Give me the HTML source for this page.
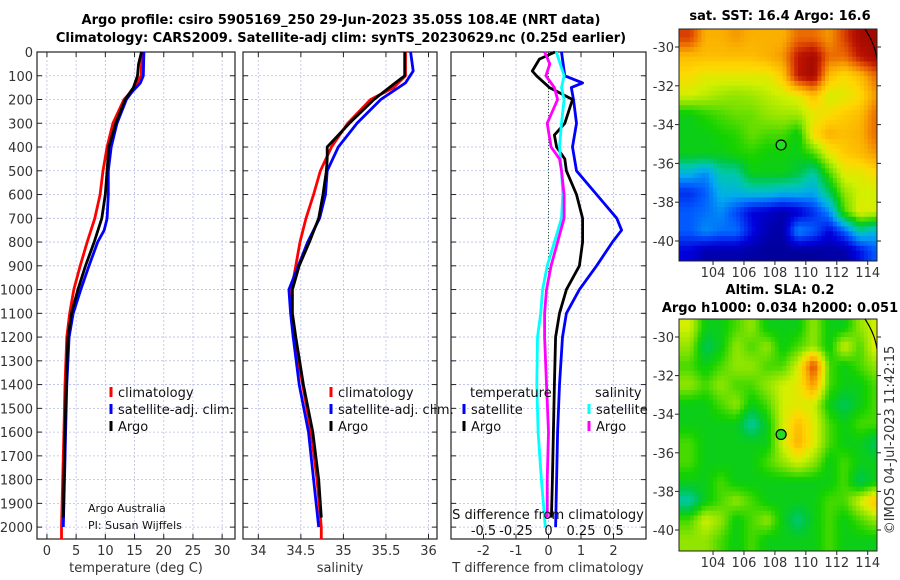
<!DOCTYPE html>
<html><head><meta charset="utf-8"><style>
body{margin:0;background:#fff;}
svg{display:block;font-family:"DejaVu Sans","Liberation Sans",sans-serif;}
</style></head><body>
<svg id="fig" width="900" height="580" xmlns="http://www.w3.org/2000/svg">
<text x="341" y="24" text-anchor="middle" font-size="13" font-weight="bold">Argo profile: csiro 5905169_250 29-Jun-2023 35.05S 108.4E (NRT data)</text>
<text x="341" y="42" text-anchor="middle" font-size="13" font-weight="bold">Climatology: CARS2009. Satellite-adj clim: synTS_20230629.nc (0.25d earlier)</text>
<text x="780" y="20" text-anchor="middle" font-size="13" font-weight="bold">sat. SST: 16.4 Argo: 16.6</text>
<text x="780" y="294" text-anchor="middle" font-size="13" font-weight="bold">Altim. SLA: 0.2</text>
<text x="780" y="312" text-anchor="middle" font-size="13" font-weight="bold">Argo h1000: 0.034 h2000: 0.051</text>
<text transform="translate(894,440) rotate(-90)" text-anchor="middle" font-size="13" fill="#333">©IMOS 04-Jul-2023 11:42:15</text>
<g id="layer"></g>
</svg>
<script>
// ---- data ----
const depthTicks=[0,100,200,300,400,500,600,700,800,900,1000,1100,1200,1300,1400,1500,1600,1700,1800,1900,2000];
const tempTicks=[0,5,10,15,20,25,30];
const salTicks=[34,34.5,35,35.5,36];
const tdiffTicks=[-2,-1,0,1,2];
const sdiffTicks=[-0.5,-0.25,0,0.25,0.5];
const sdiffTickLabels=["-0.5","-0.25","0","0.25","0.5"];

const climTDepth=[0,100,150,200,300,400,500,600,700,800,900,1000,1100,1200,1400,1600,1800,2000,2050];
const climT=[16.3,16.1,15.0,13.2,11.3,10.3,9.6,9.1,8.2,6.9,5.7,4.6,3.9,3.4,3.1,2.9,2.7,2.5,2.5];
const satTDepth=[0,100,130,170,200,300,400,500,600,700,750,800,900,1000,1100,1200,1400,1600,1800,2000];
const satT=[16.6,16.5,16.0,14.5,13.6,12.0,11.0,10.5,10.5,10.3,9.8,8.7,7.2,5.8,4.5,3.8,3.4,3.2,3.0,2.8];
const argoTDepth=[0,50,100,150,200,300,400,500,600,700,800,900,1000,1100,1200,1400,1600,1800,1960];
const argoT=[16.2,15.7,15.5,14.8,13.4,11.8,10.6,10.3,10.0,9.4,8.1,6.6,5.3,4.2,3.6,3.3,3.1,2.9,2.8];

const climSDepth=[0,100,150,200,300,400,500,600,700,800,900,1000,1100,1200,1400,1600,1800,2000,2050];
const climS=[35.73,35.73,35.59,35.32,35.05,34.86,34.73,34.65,34.56,34.49,34.44,34.39,34.39,34.42,34.52,34.62,34.69,34.74,34.74];
const satSDepth=[0,80,130,200,300,400,500,600,700,800,900,1000,1100,1200,1400,1600,1800,2000];
const satS=[35.79,35.82,35.73,35.44,35.16,34.94,34.81,34.79,34.72,34.58,34.47,34.36,34.38,34.41,34.48,34.59,34.65,34.71];
const argoSDepth=[0,100,130,200,300,400,450,500,600,700,800,900,1000,1100,1200,1400,1600,1800,1960];
const argoS=[35.72,35.72,35.61,35.36,35.07,34.81,34.81,34.80,34.76,34.71,34.60,34.48,34.40,34.40,34.44,34.53,34.64,34.71,34.74];

const satTdDepth=[0,100,130,150,200,300,400,500,600,700,750,800,900,1000,1100,1200,1400,1600,1800,2000];
const satTd=[0.4,0.5,1.05,0.7,0.77,0.86,0.74,0.86,1.48,2.1,2.25,1.97,1.48,0.95,0.55,0.43,0.34,0.28,0.25,0.22];
const argoTdDepth=[0,30,80,100,150,200,300,350,400,450,500,600,700,800,900,1000,1100,1200,1400,1600,1800,1960];
const argoTd=[0.2,-0.28,-0.5,-0.37,0.03,0.74,0.5,0.18,0.25,0.5,0.55,0.86,1.05,1.05,0.95,0.55,0.34,0.22,0.18,0.15,0.12,0.09];
const satSdDepth=[0,100,150,200,300,400,500,600,700,800,900,1000,1100,1200,1400,1600,1800,2000];
const satSd=[0.06,0.12,0.1,0.12,0.1,0.085,0.1,0.11,0.1,0.045,-0.01,-0.045,-0.06,-0.085,-0.09,-0.08,-0.055,-0.025];
const argoSdDepth=[0,50,100,150,200,300,400,450,500,600,700,800,900,1000,1100,1200,1400,1600,1800,1960];
const argoSd=[-0.03,0.01,-0.02,0.045,0.07,-0.01,0.02,0.085,0.1,0.12,0.12,0.07,0.02,-0.015,-0.03,-0.03,-0.015,0,-0.01,-0.01];

const lonTicks=[104,106,108,110,112,114];
const latTicks=[-30,-32,-34,-36,-38,-40];
const gridLon0=102, gridLat0=-29; // 1-degree cells
const sstGrid=[
[0.85,0.72,0.72,0.75,0.72,0.72,0.72,0.8,0.8,0.75,0.85,0.95,0.95],
[0.7,0.7,0.7,0.7,0.7,0.72,0.75,0.9,0.95,0.8,0.8,0.9,0.95],
[0.65,0.62,0.62,0.62,0.62,0.62,0.68,0.9,0.95,0.7,0.65,0.7,0.8],
[0.6,0.58,0.56,0.55,0.56,0.58,0.6,0.62,0.7,0.6,0.62,0.65,0.75],
[0.45,0.48,0.5,0.52,0.52,0.55,0.56,0.56,0.62,0.65,0.68,0.7,0.8],
[0.45,0.45,0.47,0.48,0.52,0.5,0.5,0.45,0.65,0.72,0.7,0.72,0.8],
[0.45,0.45,0.45,0.47,0.48,0.46,0.46,0.45,0.5,0.62,0.68,0.7,0.75],
[0.3,0.25,0.35,0.35,0.45,0.45,0.45,0.42,0.35,0.5,0.62,0.62,0.65],
[0.15,0.2,0.3,0.3,0.32,0.32,0.3,0.3,0.28,0.4,0.55,0.6,0.6],
[0.2,0.22,0.25,0.18,0.1,0.08,0.05,0.08,0.15,0.25,0.5,0.62,0.6],
[0.2,0.25,0.22,0.22,0.12,0.05,0.04,0.25,0.2,0.1,0.2,0.35,0.3],
[0.1,0.05,0.05,0.05,0.04,0.03,0.03,0.03,0.03,0.04,0.04,0.12,0.2]];
const slaGrid=[
[0.6,0.45,0.45,0.5,0.55,0.45,0.45,0.45,0.55,0.45,0.45,0.55,0.6],
[0.55,0.4,0.45,0.55,0.5,0.55,0.45,0.5,0.55,0.45,0.6,0.5,0.62],
[0.5,0.45,0.5,0.55,0.55,0.5,0.5,0.6,0.85,0.5,0.45,0.5,0.55],
[0.55,0.5,0.55,0.5,0.5,0.55,0.6,0.62,0.75,0.5,0.45,0.45,0.5],
[0.45,0.45,0.5,0.55,0.45,0.5,0.6,0.62,0.6,0.45,0.4,0.45,0.5],
[0.45,0.45,0.45,0.45,0.35,0.45,0.6,0.7,0.62,0.5,0.45,0.5,0.5],
[0.5,0.45,0.45,0.45,0.45,0.45,0.6,0.72,0.62,0.5,0.45,0.45,0.4],
[0.5,0.45,0.45,0.45,0.45,0.5,0.55,0.6,0.55,0.45,0.5,0.45,0.45],
[0.45,0.45,0.5,0.45,0.45,0.45,0.45,0.45,0.45,0.45,0.5,0.4,0.45],
[0.35,0.45,0.5,0.55,0.5,0.45,0.45,0.45,0.45,0.5,0.5,0.6,0.7],
[0.5,0.6,0.55,0.45,0.5,0.55,0.45,0.38,0.45,0.5,0.45,0.5,0.55],
[0.55,0.55,0.5,0.45,0.5,0.45,0.45,0.45,0.45,0.5,0.45,0.45,0.45]];
const argoLon=108.4, argoLat=-35.05;

// ---- drawing ----
const NS="http://www.w3.org/2000/svg";
const L=document.getElementById('layer');
function mk(tag,attrs,parent){const e=document.createElementNS(NS,tag);for(const k in attrs)e.setAttribute(k,attrs[k]);(parent||L).appendChild(e);return e;}
const yTop=52,yBot=539,dMax=2050;
const yD=d=>yTop+(d/dMax)*(yBot-yTop);
const panels=[
 {x0:37,x1:235,v0:-1.7,v1:32.2,name:'temperature-panel'},
 {x0:243,x1:437,v0:33.82,v1:36.1,name:'salinity-panel'},
 {x0:451,x1:646,v0:-3.0,v1:3.0,name:'difference-panel'}];
function xf(p){return v=>p.x0+(v-p.v0)/(p.v1-p.v0)*(p.x1-p.x0);}
const xT=xf(panels[0]),xS=xf(panels[1]),xTd=xf(panels[2]),xSd=s=>xTd(s*4);
const xTickSets=[tempTicks,salTicks,tdiffTicks];
panels.forEach((p,i)=>{
  const g=mk('g',{});
  
  
  const xs=xf(p);
  depthTicks.forEach(d=>{const l=mk('line',{x1:p.x0,x2:p.x1,y1:yD(d),y2:yD(d),stroke:'#b8bce8','stroke-width':0.8,'stroke-dasharray':'2,2'},g);
    
    mk('line',{x1:p.x0,x2:p.x0+5,y1:yD(d),y2:yD(d),stroke:'#222'},g);mk('line',{x1:p.x1-5,x2:p.x1,y1:yD(d),y2:yD(d),stroke:'#222'},g);});
  xTickSets[i].forEach((v,k)=>{const X=xs(v);
    const l=mk('line',{x1:X,x2:X,y1:yTop,y2:yBot,stroke:'#b8bce8','stroke-width':0.8,'stroke-dasharray':'2,2'},g);
    
    mk('line',{x1:X,x2:X,y1:yBot,y2:yBot-5,stroke:'#222'},g);mk('line',{x1:X,x2:X,y1:yTop,y2:yTop+5,stroke:'#222'},g);
    const t=mk('text',{x:X,y:555,'text-anchor':'middle','font-size':13,fill:'#333'},g);t.textContent=String(v);
    });
  const r=mk('rect',{x:p.x0,y:yTop,width:p.x1-p.x0,height:yBot-yTop,fill:'none',stroke:'#222','stroke-width':1.2},g);
  
});
depthTicks.forEach(d=>{const t=mk('text',{x:33,y:yD(d)+5,'text-anchor':'end','font-size':13,fill:'#333'});t.textContent=String(d);
  });
const z=mk('line',{x1:xTd(0),x2:xTd(0),y1:yD(0),y2:yD(950),stroke:'#335533','stroke-width':1,'stroke-dasharray':'1,2'});

function line(xfun,vals,depths,color,name){
  const pts=vals.map((v,i)=>xfun(v).toFixed(1)+','+yD(depths[i]).toFixed(1)).join(' ');
  const pl=mk('polyline',{points:pts,fill:'none',stroke:color,'stroke-width':2.8,'stroke-linejoin':'round'});
  }
line(xT,climT,climTDepth,'#ff0000','temp-climatology-line');
line(xT,satT,satTDepth,'#0000ff','temp-satellite-line');
line(xT,argoT,argoTDepth,'#000000','temp-argo-line');
line(xS,climS,climSDepth,'#ff0000','sal-climatology-line');
line(xS,satS,satSDepth,'#0000ff','sal-satellite-line');
line(xS,argoS,argoSDepth,'#000000','sal-argo-line');
line(xTd,satTd,satTdDepth,'#0000ff','tdiff-satellite-line');
line(xTd,argoTd,argoTdDepth,'#000000','tdiff-argo-line');
line(xSd,satSd,satSdDepth,'#00ffff','sdiff-satellite-line');
line(xSd,argoSd,argoSdDepth,'#ff00ff','sdiff-argo-line');

function txt(x,y,s,size,name,anchor,fill){const t=mk('text',{x:x,y:y,'font-size':size,'text-anchor':anchor||'start',fill:fill||'#111'});t.textContent=s;
  return t;}
function leg(x,y,color,label,name){const g=mk('g',{});
  mk('line',{x1:x,x2:x,y1:y-10,y2:y,stroke:color,'stroke-width':3},g);
  const t=mk('text',{x:x+7,y:y,'font-size':13,fill:'#111'},g);t.textContent=label;}
leg(111,397,'#ff0000','climatology','legend-climatology');
leg(111,414,'#0000ff','satellite-adj. clim.','legend-satellite');
leg(111,431,'#000000','Argo','legend-argo');
leg(331,397,'#ff0000','climatology','legend-sal-climatology');
leg(331,414,'#0000ff','satellite-adj. clim.','legend-sal-satellite');
leg(331,431,'#000000','Argo','legend-sal-argo');
txt(470,397,'temperature',13,'legend-title-temperature');
txt(595,397,'salinity',13,'legend-title-salinity');
leg(464,414,'#0000ff','satellite','legend-tdiff-satellite');
leg(464,431,'#000000','Argo','legend-tdiff-argo');
leg(589,414,'#00ffff','satellite','legend-sdiff-satellite');
leg(589,431,'#ff00ff','Argo','legend-sdiff-argo');
txt(88,512,'Argo Australia',11,'credit-argo-australia');
txt(88,529,'PI: Susan Wijffels',11,'credit-pi');
txt(548,519,'S difference from climatology',13,'sdiff-axis-title','middle');
sdiffTicks.forEach((s,i)=>txt(xSd(s),535,sdiffTickLabels[i],13,'sdiff-tick-label','middle'));
txt(136,572,'temperature (deg C)',13,'x-axis-title-temperature','middle','#333');
txt(340,572,'salinity',13,'x-axis-title-salinity','middle','#333');
txt(548,572,'T difference from climatology',13,'x-axis-title-tdiff','middle','#333');

// maps
const cstops=[[0,[0,0,130]],[0.1,[0,0,220]],[0.2,[0,90,255]],[0.28,[0,170,240]],[0.35,[0,200,170]],[0.42,[0,200,60]],[0.47,[20,210,0]],[0.53,[120,225,0]],[0.6,[210,240,0]],[0.66,[255,215,0]],[0.73,[250,170,0]],[0.82,[230,90,0]],[0.9,[190,20,0]],[1,[140,0,0]]];
function cmap(v){v=Math.max(0,Math.min(1,v));
  for(let i=1;i<cstops.length;i++){if(v<=cstops[i][0]){const a=cstops[i-1],b=cstops[i],t=(v-a[0])/(b[0]-a[0]);
    return 'rgb('+a[1].map((c,k)=>Math.round(c+(b[1][k]-c)*t)).join(',')+')';}}
  return 'rgb(140,0,0)';}
function sample(grid,fr,fc){ // bilinear on cell centres
  const R=grid.length,C=grid[0].length;
  fr=Math.max(0,Math.min(R-1,fr));fc=Math.max(0,Math.min(C-1,fc));
  const r0=Math.floor(fr),c0=Math.floor(fc),r1=Math.min(R-1,r0+1),c1=Math.min(C-1,c0+1),tr=fr-r0,tc=fc-c0;
  return (grid[r0][c0]*(1-tc)+grid[r0][c1]*tc)*(1-tr)+(grid[r1][c0]*(1-tc)+grid[r1][c1]*tc)*tr;}
function map(grid,y0,y1,latA,latB,name){
  const x0=679,x1=877,lon0=101.8,lon1=114.6;
  const lx=l=>x0+(l-lon0)/(lon1-lon0)*(x1-x0);
  const pxPerLat=(latB.y-latA.y)/(latA.v-latB.v);
  const Y=la=>latA.y+(latA.v-la)*pxPerLat;
  const g=mk('g',{});
  const cp='clip-'+name;const c=mk('clipPath',{id:cp},g);mk('rect',{x:x0,y:y0,width:x1-x0,height:y1-y0},c);
  const cg=mk('g',{'clip-path':'url(#'+cp+')'},g);
  const sub=4,st=1/sub;
  for(let la=gridLat0+0.5;la>-41.5;la-=st){
    for(let lo=101.5;lo<115;lo+=st){
      const v=sample(grid,gridLat0-la-0.5+st/2,lo+st/2-gridLon0-0.5);
      const xa=lx(lo),xb=lx(lo+st),ya=Y(la),yb=Y(la-st);
      const cell=mk('rect',{x:xa.toFixed(1),y:ya.toFixed(1),width:(xb-xa+0.6).toFixed(1),height:(yb-ya+0.6).toFixed(1),fill:cmap(v)},cg);
      
    }}
  mk('path',{d:'M '+(x1-12)+' '+y0+' Q '+(x1-2)+' '+(y0+15)+' '+x1+' '+(y0+30),fill:'none',stroke:'#000','stroke-width':1.2},cg);
  const dot=mk('circle',{cx:lx(argoLon),cy:Y(argoLat),r:5,fill:'#22dd22',stroke:'#000','stroke-width':1.2},g);
  
  mk('rect',{x:x0,y:y0,width:x1-x0,height:y1-y0,fill:'none',stroke:'#222','stroke-width':1},g);
  lonTicks.forEach(l=>{mk('line',{x1:lx(l),x2:lx(l),y1:y1,y2:y1+4,stroke:'#222'},g);
    const t=mk('text',{x:lx(l),y:y1+16,'text-anchor':'middle','font-size':13,fill:'#333'},g);t.textContent=String(l);
    });
  latTicks.forEach(l=>{mk('line',{x1:x0-4,x2:x0,y1:Y(l),y2:Y(l),stroke:'#222'},g);mk('line',{x1:x1,x2:x1+4,y1:Y(l),y2:Y(l),stroke:'#222'},g);
    const t=mk('text',{x:x0-5,y:Y(l)+5,'text-anchor':'end','font-size':13,fill:'#333'},g);t.textContent=String(l);
    });
}
map(sstGrid,29,261,{v:-30,y:47},{v:-40,y:241},'sst-map');
map(slaGrid,319,551,{v:-30,y:337},{v:-40,y:530},'sla-map');
</script>
</body></html>
